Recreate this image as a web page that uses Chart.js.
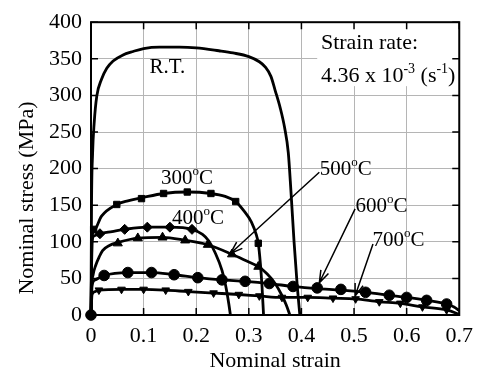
<!DOCTYPE html>
<html>
<head>
<meta charset="utf-8">
<script src="https://cdn.jsdelivr.net/npm/chart.js@4.4.0/dist/chart.umd.min.js"></script>
<style>
  html, body { margin: 0; padding: 0; background: #fff; }
  #wrap { width: 481px; height: 376px; }
</style>
</head>
<body>
<div id="wrap"><canvas id="c"></canvas></div>
<script>
// tick labels
const xTicks = [0, 0.1, 0.2, 0.3, 0.4, 0.5, 0.6, 0.7];
const yTicks = [0, 50, 100, 150, 200, 250, 300, 350, 400];

// curves, [strain, stress MPa]
const rtCurve = [[0,0],[0.001,150],[0.003,220],[0.006,262],[0.011,299],[0.02,322],[0.03,337],[0.042,347],[0.06,355],
  [0.08,360],[0.1,364],[0.13,366],[0.168,366],[0.2,365],[0.243,361],[0.27,358],[0.3,353],[0.32,346],[0.331,339],
  [0.342,326],[0.35,307],[0.36,282],[0.368,256],[0.375,222],[0.38,170],[0.386,100],[0.392,40],[0.397,0]];

const c300Curve = [[0,0],[0.002,105],[0.006,115],[0.02,135],[0.049,151],[0.07,156],[0.096,160],[0.138,166],[0.183,168],
  [0.228,166],[0.255,162],[0.275,155],[0.29,143],[0.305,127],[0.314,110],[0.318,98],[0.322,70],[0.325,40],[0.328,0]];
const c300Marks = [[0.005,117],[0.049,151],[0.096,159],[0.138,166],[0.183,168],[0.228,166],[0.275,155],[0.318,98]];

const c400Curve = [[0,0],[0.002,100],[0.006,108],[0.017,111],[0.04,114],[0.064,117],[0.107,120],[0.15,120],[0.192,117],
  [0.212,110],[0.224,101],[0.236,85],[0.249,61],[0.256,40],[0.262,15],[0.265,0]];
const c400Marks = [[0.017,111],[0.064,117],[0.107,120],[0.15,120],[0.192,117]];

const c500Curve = [[0,0],[0.001,35],[0.004,55],[0.009,68],[0.016,80],[0.022,88],[0.035,95],[0.051,99],[0.089,105],
  [0.136,106],[0.179,102],[0.222,96],[0.268,83],[0.295,74],[0.318,66],[0.335,56],[0.35,43],[0.362,28],[0.371,14],[0.378,0]];
const c500Marks = [[0.051,98],[0.089,105],[0.136,106],[0.179,102],[0.222,96],[0.268,83],[0.318,66]];

const c600Curve = [[0,0],[0.002,40],[0.008,48],[0.025,54],[0.07,58],[0.115,58],[0.158,55],[0.203,51],[0.249,48],[0.293,46],
  [0.339,43],[0.384,39],[0.43,36],[0.475,34],[0.522,31],[0.567,27],[0.6,24],[0.638,20],[0.676,15],[0.69,11],[0.7,6]];
const c600Marks = [[0,0],[0.025,54],[0.07,58],[0.115,58],[0.158,55],[0.203,51],[0.249,48],[0.293,46],[0.339,43],
  [0.384,39],[0.43,37],[0.475,35],[0.522,31],[0.567,27],[0.6,24],[0.638,20],[0.676,15]];

const c700Curve = [[0,0],[0.002,28],[0.008,32],[0.015,34],[0.058,35],[0.1,35],[0.142,34],[0.185,32],[0.233,30],[0.281,28],
  [0.32,26],[0.363,24],[0.412,24],[0.46,23],[0.503,22],[0.548,18],[0.588,16],[0.63,11],[0.676,7],[0.7,1]];
const c700Marks = [[0.015,34],[0.058,35],[0.1,35],[0.142,34],[0.185,32],[0.233,30],[0.281,28],[0.32,26],[0.363,24],
  [0.412,24],[0.46,23],[0.503,22],[0.548,18],[0.588,16],[0.63,11],[0.676,7]];

const toXY = arr => arr.map(p => ({ x: p[0], y: p[1] }));

function curve(data) {
  return {
    type: 'line', data: toXY(data), borderColor: '#000', borderWidth: 2.8,
    pointRadius: 0, cubicInterpolationMode: 'monotone', clip: false, order: 2
  };
}
function marks(data, style, r, rot) {
  return {
    type: 'scatter', data: toXY(data), showLine: false, pointStyle: style, pointRadius: r,
    pointRotation: rot || 0, backgroundColor: '#000', borderColor: '#000', borderWidth: 1,
    clip: false, order: 1
  };
}

const serif = '"Liberation Serif", "Times New Roman", serif';

// text with superscripts: parts = [text, isSup]
function drawRich(ctx, parts, x, y, size) {
  let cx = x;
  parts.forEach(([t, sup]) => {
    ctx.font = (sup ? Math.round(size * 0.62) : size) + 'px ' + serif;
    ctx.fillText(t, cx, sup ? y - size * 0.42 : y);
    cx += ctx.measureText(t).width;
  });
}

function arrow(ctx, x1, y1, x2, y2) {
  ctx.beginPath();
  ctx.moveTo(x1, y1); ctx.lineTo(x2, y2);
  const a = Math.atan2(y2 - y1, x2 - x1), L = 13, w = 0.33;
  ctx.moveTo(x2 - L * Math.cos(a - w), y2 - L * Math.sin(a - w));
  ctx.lineTo(x2, y2);
  ctx.lineTo(x2 - L * Math.cos(a + w), y2 - L * Math.sin(a + w));
  ctx.stroke();
}

const labels = [
  { at: [0.111, 330], size: 21, parts: [['R.T.']] },
  { at: [0.133, 179], size: 21, parts: [['300'], ['o', true], ['C']] },
  { at: [0.154, 124], size: 21, parts: [['400'], ['o', true], ['C']] },
  { at: [0.435, 191], size: 21, parts: [['500'], ['o', true], ['C']] },
  { at: [0.503, 141], size: 21, parts: [['600'], ['o', true], ['C']] },
  { at: [0.535, 94], size: 21, parts: [['700'], ['o', true], ['C']] },
  { at: [0.437, 364], size: 22, parts: [['Strain rate:']] },
  { at: [0.437, 318], size: 22, parts: [['4.36 x 10'], ['-3', true], [' (s'], ['-1', true], [')']] }
];
const arrows = [
  { from: [0.434, 195], to: [0.265, 84] },
  { from: [0.502, 145], to: [0.434, 44] },
  { from: [0.536, 97], to: [0.502, 26] }
];

const annot = {
  id: 'annot',
  beforeDatasetsDraw(chart) {
    const { ctx, scales: { x, y } } = chart;
    ctx.save();
    ctx.fillStyle = '#fff';
    ctx.fillRect(x.getPixelForValue(0.43), y.getPixelForValue(400) + 1,
      x.getPixelForValue(0.7) - x.getPixelForValue(0.43) - 1, y.getPixelForValue(314) - y.getPixelForValue(400));
    ctx.restore();
  },
  afterDraw(chart) {
    const { ctx, chartArea: ca, scales: { x, y } } = chart;
    ctx.save();
    ctx.strokeStyle = '#000';
    // inward ticks on all four sides
    ctx.lineWidth = 1.5;
    ctx.beginPath();
    xTicks.forEach(v => {
      const px = x.getPixelForValue(v);
      ctx.moveTo(px, ca.bottom); ctx.lineTo(px, ca.bottom - 7);
      ctx.moveTo(px, ca.top); ctx.lineTo(px, ca.top + 7);
    });
    yTicks.forEach(v => {
      const py = y.getPixelForValue(v);
      ctx.moveTo(ca.left, py); ctx.lineTo(ca.left + 7, py);
      ctx.moveTo(ca.right, py); ctx.lineTo(ca.right - 7, py);
    });
    ctx.stroke();
    ctx.lineWidth = 2;
    ctx.strokeRect(ca.left, ca.top, ca.right - ca.left, ca.bottom - ca.top);

    ctx.fillStyle = '#000';
    ctx.textBaseline = 'alphabetic';
    ctx.textAlign = 'left';
    labels.forEach(l => drawRich(ctx, l.parts, x.getPixelForValue(l.at[0]), y.getPixelForValue(l.at[1]), l.size));

    ctx.lineWidth = 1.5;
    arrows.forEach(a => arrow(ctx, x.getPixelForValue(a.from[0]), y.getPixelForValue(a.from[1]),
      x.getPixelForValue(a.to[0]), y.getPixelForValue(a.to[1])));

    // axis titles
    ctx.font = '22px ' + serif;
    ctx.textAlign = 'center';
    ctx.textBaseline = 'middle';
    ctx.fillText('Nominal strain', (ca.left + ca.right) / 2, 361);
    ctx.translate(27, 198);
    ctx.rotate(-Math.PI / 2);
    ctx.fillText('Nominal stress (MPa)', 0, 0);
    ctx.restore();
  }
};

new Chart(document.getElementById('c'), {
  type: 'line',
  data: {
    datasets: [
      curve(rtCurve),
      curve(c300Curve), marks(c300Marks, 'rect', 4.5),
      curve(c400Curve), marks(c400Marks, 'rectRot', 5),
      curve(c500Curve), marks(c500Marks, 'triangle', 5.2),
      curve(c600Curve), marks(c600Marks, 'circle', 5.3),
      curve(c700Curve), marks(c700Marks, 'triangle', 4.4, 180)
    ]
  },
  options: {
    responsive: true,
    maintainAspectRatio: false,
    animation: false,
    layout: { padding: { left: 0, right: 18, top: 18, bottom: 0 } },
    plugins: { legend: { display: false }, tooltip: { enabled: false } },
    scales: {
      x: {
        type: 'linear', min: 0, max: 0.7,
        afterBuildTicks: s => { s.ticks = xTicks.map(v => ({ value: v })); },
        afterFit: s => { s.height = 61; },
        grid: { color: '#b5b5b5', lineWidth: 1, drawTicks: false },
        border: { display: false },
        ticks: { padding: 8, color: '#000', font: { family: serif, size: 22 }, callback: v => String(v) }
      },
      y: {
        type: 'linear', min: 0, max: 400,
        afterBuildTicks: s => { s.ticks = yTicks.map(v => ({ value: v })); },
        afterFit: s => { s.width = 91; },
        grid: { color: '#b5b5b5', lineWidth: 1, drawTicks: false },
        border: { display: false },
        ticks: { padding: 9, color: '#000', font: { family: serif, size: 22 } }
      }
    }
  },
  plugins: [annot]
});
</script>
</body>
</html>
